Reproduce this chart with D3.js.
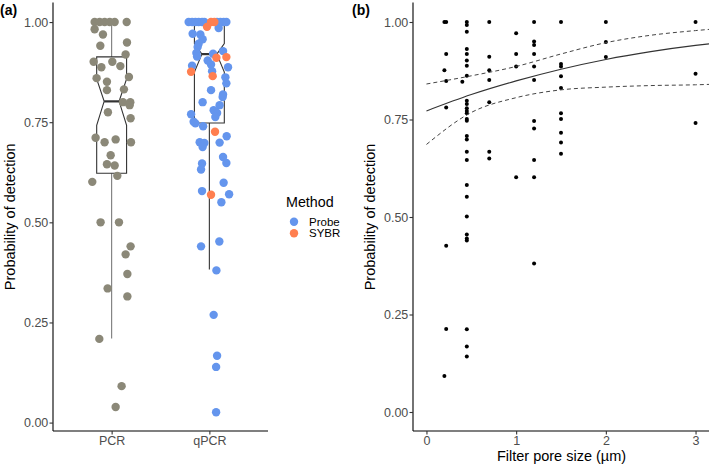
<!DOCTYPE html>
<html><head><meta charset="utf-8">
<script src="https://cdn.jsdelivr.net/npm/d3@7"></script>
<style>
body{margin:0;background:#fff}
svg{display:block}
text{font-family:"Liberation Sans",Arial,Helvetica,sans-serif}
</style>
</head><body>
<svg id="chart" width="709" height="468"></svg>
<script>
// ---------- DATA ----------
const methods = ["PCR", "qPCR"];
const chemistries = ["Probe", "SYBR"];
const yTicks = [0, 0.25, 0.5, 0.75, 1];
const xTicksB = [0, 1, 2, 3];

// Panel (a): PCR detection probabilities + horizontal jitter (category units)
const pcrValues = [1.00,1.00,1.00,1.00,1.00,1.00,0.982,0.969,0.949,0.941,0.919,0.901,0.901,0.887,0.89,0.863,0.86,0.851,0.832,0.83,0.80,0.80,0.7925,0.775,0.76,0.711,0.70,0.707,0.70,0.6675,0.645,0.642,0.616,0.601,0.50,0.50,0.44,0.42,0.371,0.335,0.315,0.209,0.091,0.039];
const pcrJitter = [-0.174,-0.123,-0.072,-0.02,0.031,0.154,-0.174,-0.089,0.157,-0.116,0.143,-0.184,0.007,-0.105,0.089,0.177,-0.154,-0.048,0.126,-0.048,0.116,0.191,0.184,-0.038,0.194,-0.164,-0.072,0.041,0.198,-0.01,-0.048,0.031,0.058,-0.198,-0.113,0.075,0.194,0.143,0.161,-0.041,0.161,-0.126,0.102,0.041];

// Panel (a): qPCR detection probabilities, jitter, chemistry
const qpcrValues = [1.00,1.00,1.00,1.00,1.00,1.00,1.00,1.00,1.00,1.00,
  0.971,0.969,0.957,0.985,0.946,0.9375,0.923,0.914,0.921,0.9275,0.904,0.894,0.891,0.887,0.8775,0.862,0.847,0.83,0.819,0.813,0.80,0.7925,0.78,0.773,0.763,0.77,0.751,0.747,0.74,0.715,0.70,0.698,0.688,0.699,0.663,0.648,0.647,0.632,0.599,0.578,0.57,0.55,0.452,0.44,0.38,0.269,0.167,0.139,0.026,
  1.00,1.00,0.988,0.911,0.9125,0.876,0.865,0.726,0.569];
const qpcrJitter = [-0.212,-0.177,-0.143,-0.11,-0.075,-0.051,0.079,0.113,0.146,0.174,
  -0.171,-0.092,-0.069,0.095,-0.11,-0.12,-0.133,-0.126,0.038,0.14,-0.017,0.017,-0.177,0.191,0.028,0.164,0.174,0.017,0.14,0.136,-0.069,0.105,0.044,0.079,0.061,-0.187,-0.161,-0.143,-0.064,0.177,-0.099,-0.051,-0.069,0.105,0.14,0.174,-0.075,-0.085,0.146,-0.075,0.202,0.123,0.102,-0.085,0.072,0.044,0.079,0.069,0.069,
  0.017,0.051,-0.024,0.072,0.174,-0.187,0.034,0.058,0.017];
const qpcrChemistry = [
  "Probe","Probe","Probe","Probe","Probe","Probe","Probe","Probe","Probe","Probe",
  "Probe","Probe","Probe","Probe","Probe","Probe","Probe","Probe","Probe","Probe","Probe","Probe","Probe","Probe","Probe","Probe","Probe","Probe","Probe","Probe","Probe","Probe","Probe","Probe","Probe","Probe","Probe","Probe","Probe","Probe","Probe","Probe","Probe","Probe","Probe","Probe","Probe","Probe","Probe","Probe","Probe","Probe","Probe","Probe","Probe","Probe","Probe","Probe","Probe",
  "SYBR","SYBR","SYBR","SYBR","SYBR","SYBR","SYBR","SYBR","SYBR"];

// Boxplot statistics (PCR, qPCR)
const boxLower  = [0.21, 0.3825];
const boxQ1     = [0.6225, 0.748];
const boxMedian = [0.802, 0.92];
const boxQ3     = [0.913, 1.0];
const boxUpper  = [1.0, 1.0];
const notchLow  = [0.742, 0.875];
const notchHigh = [0.858, 0.946];

// Panel (b): filter pore size vs probability of detection
const poreSize = [
  0.2,0.2,0.2,
  0.22,0.22,0.22,0.22,0.22,0.22,
  0.4,
  0.45,0.45,0.45,0.45,0.45,0.45,0.45,0.45,0.45,0.45,0.45,0.45,0.45,0.45,0.45,0.45,0.45,0.45,0.45,0.45,0.45,0.45,0.45,0.45,0.45,0.45,0.45,0.45,
  0.7,0.7,0.7,0.7,0.7,0.7,0.7,
  1.0,1.0,1.0,1.0,
  1.2,1.2,1.2,1.2,1.2,1.2,1.2,1.2,1.2,1.2,1.2,
  1.5,1.5,1.5,1.5,1.5,1.5,1.5,1.5,1.5,1.5,
  2.0,2.0,2.0,
  3.0,3.0,3.0];
const detectProb = [
  1.00,0.876,0.092,
  1.00,0.918,0.849,0.781,0.426,0.213,
  0.847,
  1.00,0.992,0.975,0.931,0.918,0.901,0.888,0.862,0.798,0.79,0.779,0.772,0.766,0.751,0.747,0.708,0.699,0.667,0.646,0.582,0.552,0.501,0.455,0.445,0.44,0.212,0.168,0.142,
  1.00,0.911,0.876,0.851,0.794,0.667,0.65,
  0.971,0.918,0.886,0.602,
  1.00,0.950,0.941,0.918,0.886,0.851,0.746,0.727,0.646,0.602,0.381,
  1.00,0.892,0.886,0.861,0.831,0.766,0.751,0.716,0.691,0.662,
  1.00,0.949,0.910,
  1.00,0.867,0.741];

// Fitted logistic curve and 95% CI
const fitX     = [0, 0.5, 1, 1.5, 2, 2.5, 3, 3.15];
const fitY     = [0.772, 0.814, 0.849, 0.879, 0.904, 0.924, 0.940, 0.944];
const fitUpper = [0.841, 0.862, 0.886, 0.918, 0.947, 0.966, 0.978, 0.981];
const fitLower = [0.686, 0.768, 0.806, 0.826, 0.833, 0.837, 0.839, 0.840];

// ---------- STYLE ----------
const colPCR = "#8B8878";
const colChem = {Probe: "#6495ED", SYBR: "#FF7F50"};
const tickTextCol = "#4D4D4D";

const svg = d3.select("#chart");

function styleAxis(ax) {
  ax.select(".domain").attr("stroke", "#000").attr("stroke-width", 1.1);
  ax.selectAll(".tick line").attr("stroke", "#333").attr("stroke-width", 1.1);
  ax.selectAll(".tick text").attr("fill", tickTextCol).style("font-size", "12.5px")
    .style("font-family", '"Liberation Sans",Arial,sans-serif');
}

// ---------- PANEL A ----------
const A = {left: 53, right: 268, top: 2.6, bottom: 431};
const xA = d3.scalePoint().domain(methods).range([A.left, A.right]).padding(0.6);
const yA = d3.scaleLinear().domain([-0.021, 1.0486]).range([A.bottom, A.top]);
const stepA = xA.step();

const gA = svg.append("g");

// boxplots
const boxHalf = 0.153 * stepA;
methods.forEach((m, i) => {
  const cx = xA(m);
  const whiskCol = i === 0 ? "#7a7a7a" : "#333333";
  gA.append("line").attr("x1", cx).attr("x2", cx)
    .attr("y1", yA(boxQ3[i])).attr("y2", yA(boxUpper[i]))
    .attr("stroke", whiskCol).attr("stroke-width", 1.1);
  gA.append("line").attr("x1", cx).attr("x2", cx)
    .attr("y1", yA(boxQ1[i])).attr("y2", yA(boxLower[i]))
    .attr("stroke", whiskCol).attr("stroke-width", 1.1);
  const p = d3.path();
  p.moveTo(cx - boxHalf, yA(boxQ3[i]));
  p.lineTo(cx + boxHalf, yA(boxQ3[i]));
  p.lineTo(cx + boxHalf, yA(notchHigh[i]));
  p.lineTo(cx + boxHalf / 2, yA(boxMedian[i]));
  p.lineTo(cx + boxHalf, yA(notchLow[i]));
  p.lineTo(cx + boxHalf, yA(boxQ1[i]));
  p.lineTo(cx - boxHalf, yA(boxQ1[i]));
  p.lineTo(cx - boxHalf, yA(notchLow[i]));
  p.lineTo(cx - boxHalf / 2, yA(boxMedian[i]));
  p.lineTo(cx - boxHalf, yA(notchHigh[i]));
  p.closePath();
  gA.append("path").attr("d", p.toString())
    .attr("fill", "white").attr("stroke", "#333333").attr("stroke-width", 1.1);
  gA.append("line")
    .attr("x1", cx - boxHalf / 2).attr("x2", cx + boxHalf / 2)
    .attr("y1", yA(boxMedian[i])).attr("y2", yA(boxMedian[i]))
    .attr("stroke", "#333333").attr("stroke-width", 2.2);
});

// points
const pcrPts = pcrValues.map((v, i) => ({v, j: pcrJitter[i]}));
gA.selectAll("circle.pcr").data(pcrPts).join("circle")
  .attr("class", "pcr")
  .attr("cx", d => xA("PCR") + d.j * stepA)
  .attr("cy", d => yA(d.v))
  .attr("r", 4.2).attr("fill", colPCR);

const qPts = qpcrValues.map((v, i) => ({v, j: qpcrJitter[i], c: qpcrChemistry[i]}));
gA.selectAll("circle.q").data(qPts).join("circle")
  .attr("class", "q")
  .attr("cx", d => xA("qPCR") + d.j * stepA)
  .attr("cy", d => yA(d.v))
  .attr("r", 4.2).attr("fill", d => colChem[d.c]);

// axes A
const axYA = gA.append("g").attr("transform", `translate(${A.left},0)`)
  .call(d3.axisLeft(yA).tickValues(yTicks).tickFormat(d3.format(".2f")).tickSizeOuter(0).tickSize(3.5).tickPadding(1.2));
const axXA = gA.append("g").attr("transform", `translate(0,${A.bottom})`)
  .call(d3.axisBottom(xA).tickSizeOuter(0).tickSize(3.5).tickPadding(1.8));
styleAxis(axYA); styleAxis(axXA);
axYA.select(".domain").attr("d", `M0,${A.top}V${A.bottom}`);
axXA.select(".domain").attr("d", `M${A.left},0H${A.right}`);

svg.append("text").attr("transform", `translate(15,${(A.top + A.bottom) / 2}) rotate(-90)`)
  .attr("text-anchor", "middle").style("font-size", "14.5px").attr("fill", "#000")
  .text("Probability of detection");
svg.append("text").attr("x", 0).attr("y", 15).style("font-size", "14px")
  .style("font-weight", "bold").text("(a)");

// legend
const lg = svg.append("g");
lg.append("text").attr("x", 286).attr("y", 207).style("font-size", "14.3px").text("Method");
chemistries.forEach((c, i) => {
  const y = 221.7 + i * 11.6;
  lg.append("circle").attr("cx", 294).attr("cy", y).attr("r", 4.2).attr("fill", colChem[c]);
  lg.append("text").attr("x", 309).attr("y", y + 4).style("font-size", "11.5px").text(c);
});

// ---------- PANEL B ----------
const B = {left: 413, right: 709, top: 2.5, bottom: 431.5};
const xB = d3.scaleLinear().domain([-0.15, 3.15]).range([B.left, B.right]);
const yB = d3.scaleLinear().domain([-0.05, 1.05]).range([B.bottom, B.top]);
const gB = svg.append("g");

const ptsB = poreSize.map((x, i) => ({x, y: detectProb[i]}));
gB.selectAll("circle").data(ptsB).join("circle")
  .attr("cx", d => xB(d.x)).attr("cy", d => yB(d.y)).attr("r", 2).attr("fill", "#000");

const fitData = fitX.map((x, i) => ({x, y: fitY[i], lo: fitLower[i], hi: fitUpper[i]}));
const mk = key => d3.line().x(d => xB(d.x)).y(d => yB(d[key])).curve(d3.curveMonotoneX);
gB.append("path").datum(fitData).attr("d", mk("y")).attr("fill", "none")
  .attr("stroke", "#333").attr("stroke-width", 1.1);
["lo", "hi"].forEach(k => {
  gB.append("path").datum(fitData).attr("d", mk(k)).attr("fill", "none")
    .attr("stroke", "#444").attr("stroke-width", 1).attr("stroke-dasharray", "4,3");
});

const axYB = gB.append("g").attr("transform", `translate(${B.left},0)`)
  .call(d3.axisLeft(yB).tickValues(yTicks).tickFormat(d3.format(".2f")).tickSizeOuter(0).tickSize(3.5).tickPadding(1.2));
const axXB = gB.append("g").attr("transform", `translate(0,${B.bottom - 0.5})`)
  .call(d3.axisBottom(xB).tickValues(xTicksB).tickFormat(d3.format("d")).tickSizeOuter(0).tickSize(3.5).tickPadding(1.2));
styleAxis(axYB); styleAxis(axXB);
axYB.select(".domain").attr("d", `M0,${B.top}V${B.bottom - 0.5}`);
axXB.select(".domain").attr("d", `M${B.left},0H${B.right}`);

svg.append("text").attr("transform", `translate(375,${(B.top + B.bottom) / 2}) rotate(-90)`)
  .attr("text-anchor", "middle").style("font-size", "14.5px").text("Probability of detection");
svg.append("text").attr("x", (B.left + B.right) / 2 + 0.5).attr("y", 460.8)
  .attr("text-anchor", "middle").style("font-size", "14.5px").text("Filter pore size (µm)");
svg.append("text").attr("x", 352).attr("y", 15).style("font-size", "14px")
  .style("font-weight", "bold").text("(b)");
</script>
</body></html>
